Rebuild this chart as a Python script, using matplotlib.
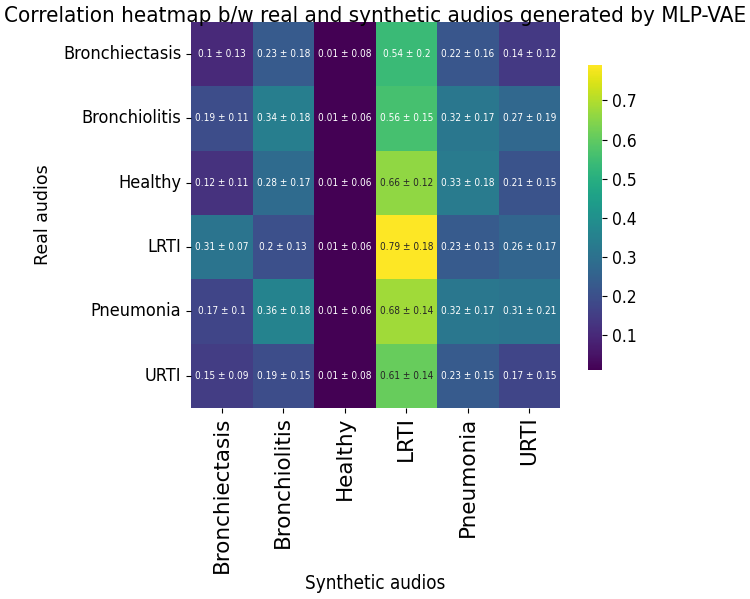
import numpy as np
import matplotlib
matplotlib.use("Agg")
import matplotlib.pyplot as plt
import seaborn as sns

labels = ["Bronchiectasis", "Bronchiolitis", "Healthy", "LRTI", "Pneumonia", "URTI"]
means = np.array([
    [0.10, 0.23, 0.01, 0.54, 0.22, 0.14],
    [0.19, 0.34, 0.01, 0.56, 0.32, 0.27],
    [0.12, 0.28, 0.01, 0.66, 0.33, 0.21],
    [0.31, 0.20, 0.01, 0.79, 0.23, 0.26],
    [0.17, 0.36, 0.01, 0.68, 0.32, 0.31],
    [0.15, 0.19, 0.01, 0.61, 0.23, 0.17],
])
stds = np.array([
    [0.13, 0.18, 0.08, 0.20, 0.16, 0.12],
    [0.11, 0.18, 0.06, 0.15, 0.17, 0.19],
    [0.11, 0.17, 0.06, 0.12, 0.18, 0.15],
    [0.07, 0.13, 0.06, 0.18, 0.13, 0.17],
    [0.10, 0.18, 0.06, 0.14, 0.17, 0.21],
    [0.09, 0.15, 0.08, 0.14, 0.15, 0.15],
])

annot = np.array([[f"{m:g} \u00b1 {s:g}" for m, s in zip(mr, sr)] for mr, sr in zip(means, stds)])

COND = dict(family="DejaVu Sans", stretch="condensed")

fig = plt.figure(figsize=(7.5, 5.99), dpi=100)
ax = fig.add_axes([0.2547, 0.319, 0.492, 0.6445])
cax = fig.add_axes([0.784, 0.382, 0.019, 0.509])
sns.heatmap(means, annot=annot, fmt="", cmap="viridis", ax=ax, cbar_ax=cax,
            xticklabels=labels, yticklabels=labels,
            annot_kws={"fontsize": 7.2, "fontstretch": "condensed"})
ax.set_xticklabels(labels, rotation=90, fontsize=15.5)
ax.set_yticklabels(labels, rotation=0, fontsize=13, **COND)
ax.tick_params(axis="x", pad=2.5)
ax.set_xlabel("Synthetic audios", fontsize=13.5, labelpad=1, **COND)
ax.set_ylabel("Real audios", fontsize=12.5, labelpad=8)
cax.tick_params(labelsize=12.5)
for t in cax.get_yticklabels():
    t.set_fontstretch("condensed")
fig.text(0.5, 0.99, "Correlation heatmap b/w real and synthetic audios generated by MLP-VAE",
         ha="center", va="top", fontsize=16, **COND)
fig.savefig("out.png", dpi=100)
